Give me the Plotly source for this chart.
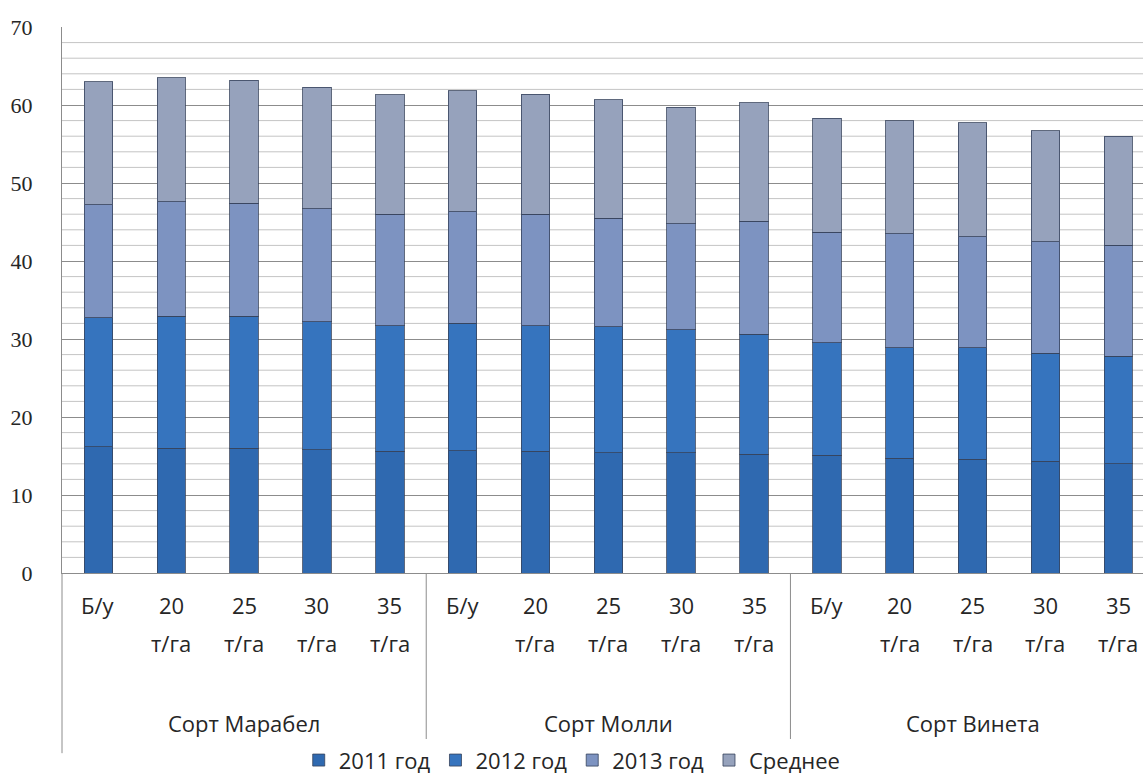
import plotly.graph_objects as go

# Categories: fertilizer rate within each potato variety
rates = ["Б/у", "20", "25", "30", "35", "Б/у", "20", "25", "30", "35", "Б/у", "20", "25", "30", "35"]
rate_units = ["", "т/га", "т/га", "т/га", "т/га", "", "т/га", "т/га", "т/га", "т/га", "", "т/га", "т/га", "т/га", "т/га"]
varieties = ["Сорт Марабел", "Сорт Молли", "Сорт Винета"]

# Stacked series values
y2011 = [16.2, 16.0, 16.0, 15.8, 15.6, 15.7, 15.6, 15.4, 15.4, 15.2, 15.1, 14.7, 14.6, 14.3, 14.0]
y2012 = [16.5, 16.9, 16.9, 16.4, 16.1, 16.3, 16.1, 16.2, 15.8, 15.4, 14.4, 14.2, 14.3, 13.9, 13.8]
y2013 = [14.5, 14.7, 14.5, 14.5, 14.3, 14.3, 14.3, 13.9, 13.6, 14.5, 14.2, 14.6, 14.2, 14.3, 14.2]
y_mean = [15.8, 15.9, 15.8, 15.6, 15.3, 15.5, 15.4, 15.2, 14.9, 15.2, 14.6, 14.5, 14.6, 14.2, 14.0]

series = [
    ("2011 год", y2011, "#2F69B0"),
    ("2012 год", y2012, "#3674BE"),
    ("2013 год", y2013, "#7D93C1"),
    ("Среднее", y_mean, "#96A2BC"),
]

x = list(range(len(rates)))
SANS = "'Open Sans', Lato, sans-serif"
TEXT = "#262626"

fig = go.Figure()
for name, vals, color in series:
    fig.add_trace(go.Bar(
        x=x, y=vals, name=name, width=0.39,
        marker=dict(color=color, line=dict(color="rgba(55,68,92,0.8)", width=1)),
    ))

# Minor gridlines every 2 units
shapes = []
for v in range(2, 70, 2):
    if v % 10:
        shapes.append(dict(type="line", xref="paper", yref="y", x0=0, x1=1, y0=v, y1=v,
                           line=dict(color="#C4C4C4", width=1), layer="below"))

# Group dividers and left axis extension into the label area
for xd in [4.5, 9.5]:
    shapes.append(dict(type="line", xref="x", yref="paper", x0=xd, x1=xd, y0=0, y1=-0.33,
                       line=dict(color="#8C8C8C", width=1)))
shapes.append(dict(type="line", xref="paper", yref="paper", x0=0, x1=0, y0=0, y1=-0.33,
                   line=dict(color="#8C8C8C", width=1)))

annotations = []
for i, (r, u) in enumerate(zip(rates, rate_units)):
    annotations.append(dict(x=i, y=-0.0586, xref="x", yref="paper", text=r, showarrow=False,
                            yanchor="middle", font=dict(family=SANS, size=22, color=TEXT)))
    if u:
        annotations.append(dict(x=i, y=-0.128, xref="x", yref="paper", text=u, showarrow=False,
                                yanchor="middle", font=dict(family=SANS, size=22, color=TEXT)))
for g, name in enumerate(varieties):
    annotations.append(dict(x=g * 5 + 2, y=-0.2747, xref="x", yref="paper", text=name,
                            showarrow=False, yanchor="middle",
                            font=dict(family=SANS, size=22, color=TEXT)))

fig.update_layout(
    barmode="stack",
    width=1143, height=776,
    margin=dict(l=62, r=0, t=27, b=203, autoexpand=False),
    paper_bgcolor="white", plot_bgcolor="white",
    shapes=shapes, annotations=annotations,
    showlegend=True,
    legend=dict(orientation="h", x=0.472, xanchor="center", y=-0.343, yanchor="middle",
                font=dict(family=SANS, size=22, color=TEXT),
                traceorder="normal", itemwidth=30),
    xaxis=dict(range=[-0.5, 14.34], showticklabels=False, showgrid=False,
               showline=True, linecolor="#8C8C8C", linewidth=1, zeroline=False, ticks=""),
    yaxis=dict(range=[0, 70], tickvals=list(range(0, 71, 10)), showgrid=True,
               gridcolor="#8C8C8C", gridwidth=1, showline=True, linecolor="#8C8C8C",
               mirror=False, zeroline=False, ticks="", ticklabelstandoff=24,
               tickfont=dict(family="'Liberation Serif', 'Times New Roman', serif", size=22,
                             color=TEXT)),
)

fig.write_html("out.html")
